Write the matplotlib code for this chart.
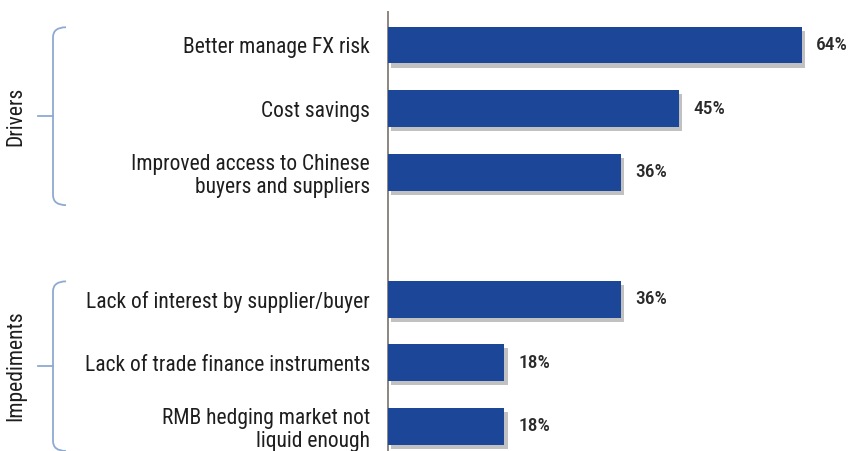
import matplotlib
matplotlib.use("Agg")
import matplotlib.pyplot as plt
import matplotlib.patheffects as pe
from matplotlib.transforms import blended_transform_factory
from matplotlib.path import Path
from matplotlib.patches import PathPatch

categories = ["Better manage FX risk", "Cost savings",
              "Improved access to Chinese\nbuyers and suppliers",
              "Lack of interest by supplier/buyer",
              "Lack of trade finance instruments",
              "RMB hedging market not\nliquid enough"]
values = [64, 45, 36, 36, 18, 18]
positions = [0, 1, 2, 4, 5, 6]
groups = [("Drivers", [0, 1, 2]), ("Impediments", [3, 4, 5])]

W, H = 849, 451
fig = plt.figure(figsize=(W / 100, H / 100), dpi=100)
fig.patch.set_facecolor("white")
ax = fig.add_axes([388 / W, 0, 1 - 388 / W, (H - 12) / H])

font = ["Roboto Condensed", "DejaVu Sans"]
tcol = "#1e1e1e"
bar_color = "#1c4698"
bars = ax.barh(positions, values, height=0.58, color=bar_color, zorder=3)
for b in bars:
    b.set_path_effects([pe.SimplePatchShadow(offset=(2.5, -3), shadow_rgbFace="#666666", alpha=0.4),
                        pe.Normal()])

ax.set_xlim(0, 71.3)
ax.set_ylim(6.39, -0.52)
for s in ["top", "right", "bottom"]:
    ax.spines[s].set_visible(False)
ax.spines["left"].set_color("#8c8580")
ax.spines["left"].set_linewidth(1.4)
ax.set_xticks([])
ax.set_yticks(positions)
ax.set_yticklabels(categories, fontfamily=font, fontstretch="condensed", fontsize=15.5,
                   fontweight="normal", color=tcol, ha="right", multialignment="right",
                   linespacing=1.12)
ax.tick_params(axis="y", length=0, pad=13)

for p, v in zip(positions, values):
    ax.text(v + 2.2, p, f"{v}%", va="center", ha="left", fontfamily=font,
            fontstretch="condensed", fontsize=14, fontweight="medium", color="#2a2a2a")

# brackets
tr = blended_transform_factory(fig.transFigure, ax.transData)
bcol = "#8eaad2"
xv = 53 / W
xr = 66 / W
xl = 38 / W
r = 0.16
for name, idx in groups:
    ps = [positions[i] for i in idx]
    top = ps[0] - 0.28
    bot = ps[-1] + 0.52 if name == "Drivers" else ps[-1] + 0.39
    mid = (top + bot) / 2
    verts = [(xr, top), (xv, top), (xv, top + r), (xv, bot - r), (xv, bot), (xr, bot)]
    codes = [Path.MOVETO, Path.CURVE3, Path.CURVE3, Path.LINETO, Path.CURVE3, Path.CURVE3]
    ax.add_patch(PathPatch(Path(verts, codes), transform=tr, fill=False,
                           edgecolor=bcol, lw=1.3, clip_on=False))
    ax.add_line(plt.Line2D([xl, xv], [mid, mid], transform=tr, color=bcol,
                           lw=1.3, clip_on=False))
    ax.text(16 / W, mid, name, transform=tr, rotation=90, va="center", ha="center",
            fontfamily=font, fontstretch="condensed", fontsize=15.5, fontweight="normal",
            color=tcol, clip_on=False)

fig.savefig("out.png", dpi=100, facecolor="white")
